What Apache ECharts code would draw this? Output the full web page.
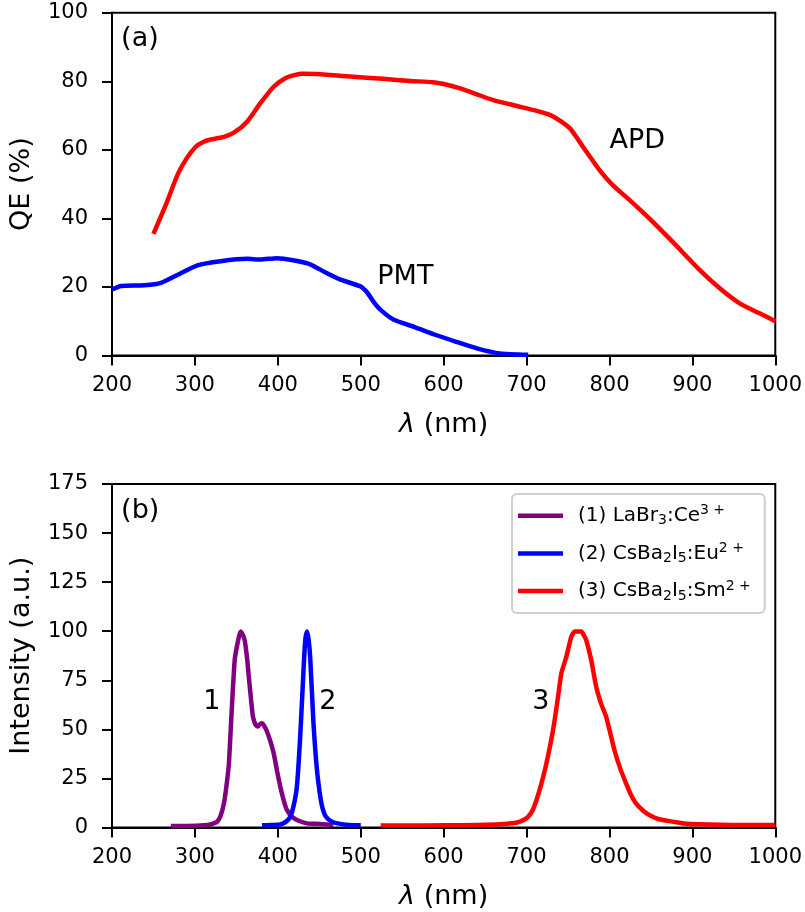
<!DOCTYPE html>
<html>
<head>
<meta charset="utf-8">
<script src="https://cdn.jsdelivr.net/npm/echarts@6/dist/echarts.min.js"></script>
<style>html,body{margin:0;padding:0;background:#fff}#c{width:805px;height:912px}</style>
</head>
<body>
<div id="c"></div>
<script>
// ---- Data ----
const xTicks = [200, 300, 400, 500, 600, 700, 800, 900, 1000];
const qeTicks = [0, 20, 40, 60, 80, 100];
const intTicks = [0, 25, 50, 75, 100, 125, 150, 175];

const apdWl = [250, 265, 279, 290, 301, 310, 319, 335, 347, 363, 379, 395, 409, 420, 430, 447, 487, 527, 560, 587, 600, 620, 640, 660, 688, 710, 728, 742, 754, 772, 788, 804, 824, 848, 876, 909, 933, 957, 981, 1000];
const apdQE = [35.5, 44, 52.7, 57.5, 60.9, 62.3, 63, 63.8, 65, 68.2, 73.6, 78.4, 80.9, 81.8, 82.2, 82.1, 81.4, 80.7, 80.1, 79.7, 79.2, 77.9, 76.2, 74.5, 72.8, 71.5, 70.2, 68.2, 65.8, 59.5, 54.1, 49.7, 45.4, 40.0, 33.2, 24.9, 19.6, 15.2, 12.3, 10.0];

const pmtWl = [200, 211, 239, 259, 283, 303, 331, 363, 379, 399, 420, 439, 457, 475, 500, 508, 516, 524, 540, 565, 588, 615, 640, 668, 702];
const pmtQE = [19.3, 20.3, 20.5, 21.2, 24.0, 26.3, 27.5, 28.2, 28.0, 28.4, 27.7, 26.6, 24.3, 22.2, 20.1, 18.3, 15.5, 13.3, 10.4, 8.3, 6.2, 4.0, 2.1, 0.6, 0.2];

const ceWl = [271, 290, 315, 322, 327, 331, 335, 338, 341, 344, 348, 352, 355, 358, 360, 363, 365, 368, 370, 373, 376, 378, 381, 384, 387, 391, 395, 399, 403, 407, 411, 417, 423, 435, 451, 467];
const ceInt = [0.8, 0.8, 1.3, 2.0, 3, 6, 12.3, 21, 32.7, 56.5, 85.3, 95, 99.8, 98, 95.5, 86, 76.8, 64, 56.5, 52.5, 51.4, 52.5, 53.1, 51.5, 48.8, 44, 37.8, 29, 20.8, 14, 8.9, 5.5, 3.8, 2.1, 1.8, 1.3];

const euWl = [381, 392, 403, 410, 415, 419, 423, 427, 431, 433, 435, 437, 439, 443, 446, 449, 453, 458, 465, 472, 486, 500];
const euInt = [1.1, 1.3, 1.6, 3.0, 5.5, 11, 20.8, 46.3, 80.2, 95, 99.8, 96, 87.0, 53.1, 35, 22.5, 11.5, 5.5, 3.0, 2.1, 1.3, 1.1];

const smWl = [524, 560, 600, 640, 668, 685, 692, 698, 702, 707, 712, 718, 724, 732, 738, 742, 748, 754, 758, 762, 766, 769, 772, 778, 784, 790, 796, 806, 813, 820, 826, 832, 840, 848, 860, 876, 890, 909, 950, 1000];
const smInt = [1.0, 1.0, 1.1, 1.3, 1.6, 2.3, 3.0, 4.2, 5.5, 8.5, 14, 22.5, 32.7, 49.7, 66.6, 78.6, 87.0, 97.2, 99.8, 99.8, 99.8, 98, 95.5, 85.3, 71.7, 63, 56.5, 39.5, 30, 22.5, 16.5, 12.3, 8.8, 6.4, 4.2, 3.0, 2.0, 1.6, 1.3, 1.3];

const seriesNames = ['(1) LaBr3:Ce3+', '(2) CsBa2I5:Eu2+', '(3) CsBa2I5:Sm2+'];
const legendRich = [
  '(1) LaBr{sub|3}:Ce{sup|3 +}',
  '(2) CsBa{sub|2}I{sub|5}:Eu{sup|2 +}',
  '(3) CsBa{sub|2}I{sub|5}:Sm{sup|2 +}'
];

// annotations in data coordinates: [grid, x, y, text]
const annotations = [
  [0, 211, 92.3, '(a)'],
  [1, 211, 161.5, '(b)'],
  [0, 520, 22.8, 'PMT'],
  [0, 800, 62.6, 'APD'],
  [1, 310, 64, '1'],
  [1, 450, 64, '2'],
  [1, 707, 64, '3']
];

const FONT = 'DejaVu Sans';
const zip = (a, b) => a.map((v, i) => [v, b[i]]);

function xAxis(gi) {
  return {
    type: 'value', gridIndex: gi, min: 200, max: 1000, interval: 100,
    name: '{i|λ} (nm)', nameLocation: 'middle', nameGap: 56,
    nameTextStyle: { fontFamily: FONT, fontSize: 27, color: '#000',
      rich: { i: { fontFamily: FONT, fontSize: 27, fontStyle: 'italic', color: '#000' } } },
    axisLine: { show: true, lineStyle: { color: '#000', width: 2 } },
    axisTick: { show: true, length: 10, lineStyle: { color: '#000', width: 2 } },
    axisLabel: { fontFamily: FONT, fontSize: 21, color: '#000', margin: 20, formatter: (v) => String(v) },
    splitLine: { show: false }
  };
}
function yAxis(gi, max, interval, name) {
  return {
    type: 'value', gridIndex: gi, min: 0, max: max, interval: interval,
    name: name, nameLocation: 'middle', nameGap: 77,
    nameTextStyle: { fontFamily: FONT, fontSize: 27, color: '#000' },
    axisLine: { show: true, lineStyle: { color: '#000', width: 2 } },
    axisTick: { show: true, length: 10, lineStyle: { color: '#000', width: 2 } },
    axisLabel: { fontFamily: FONT, fontSize: 21, color: '#000', margin: 24, formatter: (v) => String(v) },
    splitLine: { show: false }
  };
}
function line(name, gi, data, color) {
  return {
    type: 'line', name: name, xAxisIndex: gi, yAxisIndex: gi, data: data,
    showSymbol: false, symbol: 'none', smooth: 0.2, clip: true,
    lineStyle: { color: color, width: 4.5, join: 'round', cap: 'butt' }, itemStyle: { color: color },
    emphasis: { disabled: true }, animation: false, z: 3
  };
}

const chart = echarts.init(document.getElementById('c'), null, { renderer: 'canvas' });
chart.setOption({
  animation: false,
  backgroundColor: '#fff',
  grid: [
    { left: 111, right: 29, top: 12.7, height: 342.8, show: true, borderColor: '#000', borderWidth: 2, backgroundColor: 'transparent' },
    { left: 111, right: 29, top: 484, height: 343.5, show: true, borderColor: '#000', borderWidth: 2, backgroundColor: 'transparent' }
  ],
  xAxis: [xAxis(0), xAxis(1)],
  yAxis: [yAxis(0, 100, 20, 'QE (%)'), yAxis(1, 175, 25, 'Intensity (a.u.)')],
  legend: {
    data: seriesNames,
    orient: 'vertical', left: 512, top: 494,
    icon: 'rect', itemWidth: 45, itemHeight: 4.5, itemGap: 13.7,
    padding: [9.7, 14, 10, 6],
    borderColor: '#d0d0d0', borderWidth: 2, borderRadius: 5, backgroundColor: '#fff',
    selectedMode: false,
    formatter: (n) => legendRich[seriesNames.indexOf(n)],
    textStyle: {
      fontFamily: FONT, fontSize: 20, color: '#000', lineHeight: 24, padding: [0, 0, 0, 10],
      rich: {
        sub: { fontFamily: FONT, fontSize: 14, color: '#000', lineHeight: 24, verticalAlign: 'bottom' },
        sup: { fontFamily: FONT, fontSize: 14, color: '#000', lineHeight: 24, verticalAlign: 'top' }
      }
    }
  },
  series: [
    line('APD', 0, zip(apdWl, apdQE), '#ff0000'),
    line('PMT', 0, zip(pmtWl, pmtQE), '#0000ff'),
    line(seriesNames[0], 1, zip(ceWl, ceInt), '#800080'),
    line(seriesNames[1], 1, zip(euWl, euInt), '#0000ff'),
    line(seriesNames[2], 1, zip(smWl, smInt), '#ff0000')
  ]
});

const g = annotations.map(([gi, x, y, t]) => {
  const p = chart.convertToPixel({ gridIndex: gi }, [x, y]);
  return { type: 'text', x: p[0], y: p[1], z: 10,
    style: { text: t, fontFamily: FONT, fontSize: 27, fill: '#000', textAlign: 'left', textVerticalAlign: 'middle' } };
});
chart.setOption({ graphic: g });
</script>
</body>
</html>
